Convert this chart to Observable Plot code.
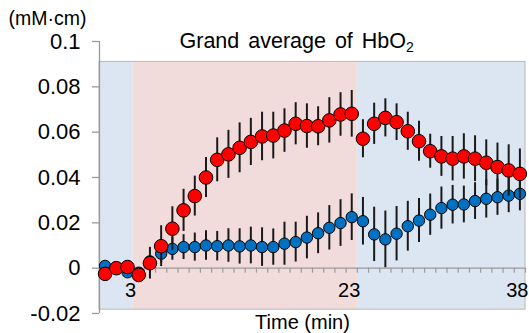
<!DOCTYPE html>
<html>
<head>
<meta charset="utf-8">
<script src="https://cdn.jsdelivr.net/npm/d3@7"></script>
<script src="https://cdn.jsdelivr.net/npm/@observablehq/plot@0.6"></script>
<style>
  html, body { margin: 0; padding: 0; background: #fff; }
</style>
</head>
<body>
<div id="chart"></div>
<script>
// ---- data ----
const titleMain = "Grand average of HbO";
const titleSub = "2";
const unitLabel = "(mM\u00b7cm)";
const xTitle = "Time (min)";

const times = [0.5, 1.5, 2.5, 3.5, 4.5, 5.5, 6.5, 7.5, 8.5, 9.5,
  10.5, 11.5, 12.5, 13.5, 14.5, 15.5, 16.5, 17.5, 18.5, 19.5,
  20.5, 21.5, 22.5, 23.5, 24.5, 25.5, 26.5, 27.5, 28.5, 29.5,
  30.5, 31.5, 32.5, 33.5, 34.5, 35.5, 36.5, 37.5];

const redMean = [-0.0025, 0.0000, 0.0005, -0.0030, 0.0022, 0.0097, 0.0174, 0.0255, 0.0318, 0.0400,
  0.0478, 0.0502, 0.0531, 0.0557, 0.0581, 0.0585, 0.0607, 0.0637, 0.0627, 0.0626,
  0.0652, 0.0678, 0.0681, 0.0571, 0.0637, 0.0663, 0.0644, 0.0604, 0.0560, 0.0516,
  0.0493, 0.0483, 0.0493, 0.0483, 0.0465, 0.0446, 0.0431, 0.0416];
const redErr = [0.0020, 0.0020, 0.0020, 0.0020, 0.0070, 0.0090, 0.0097, 0.0093, 0.0088, 0.0088,
  0.0097, 0.0106, 0.0110, 0.0104, 0.0107, 0.0103, 0.0096, 0.0093, 0.0098, 0.0086,
  0.0100, 0.0096, 0.0103, 0.0084, 0.0091, 0.0084, 0.0081, 0.0084, 0.0088, 0.0075,
  0.0088, 0.0098, 0.0100, 0.0101, 0.0101, 0.0106, 0.0113, 0.0110];

const blueMean = [0.0010, 0.0000, -0.0018, -0.0020, 0.0030, 0.0064, 0.0085, 0.0093, 0.0093, 0.0100,
  0.0097, 0.0100, 0.0096, 0.0100, 0.0093, 0.0093, 0.0108, 0.0115, 0.0135, 0.0154,
  0.0178, 0.0199, 0.0225, 0.0207, 0.0149, 0.0127, 0.0152, 0.0185, 0.0210, 0.0236,
  0.0265, 0.0280, 0.0281, 0.0296, 0.0306, 0.0313, 0.0320, 0.0328];
const blueErr = [0.0010, 0.0010, 0.0010, 0.0010, 0.0020, 0.0040, 0.0050, 0.0055, 0.0062, 0.0065,
  0.0065, 0.0074, 0.0078, 0.0081, 0.0085, 0.0080, 0.0095, 0.0088, 0.0094, 0.0090,
  0.0098, 0.0103, 0.0103, 0.0105, 0.0120, 0.0125, 0.0120, 0.0110, 0.0097, 0.0091,
  0.0093, 0.0085, 0.0081, 0.0081, 0.0085, 0.0080, 0.0075, 0.0075];

// background phases (min)
const phaseStart = [0, 3, 23];
const phaseEnd = [3, 23, 38];
const phaseKind = ["rest", "task", "rest"];
const phaseBottom = -0.0183;
const phaseTop = 0.091;

const yTicks = [0.1, 0.08, 0.06, 0.04, 0.02, 0, -0.02];
const yTickLabels = ["0.1", "0.08", "0.06", "0.04", "0.02", "0", "-0.02"];
const xTickLabelValues = [3, 23, 38];
const xTickLabels = ["3", "23", "38"];

// ---- tables ----
const red = times.map((t, i) => ({t, m: redMean[i], e: redErr[i]}));
const blue = times.map((t, i) => ({t, m: blueMean[i], e: blueErr[i]}));
const phases = phaseStart.map((s, i) => ({s, e: phaseEnd[i], kind: phaseKind[i]}));
const yLabelOf = new Map(yTicks.map((v, i) => [v, yTickLabels[i]]));
const xLabelOf = new Map(xTickLabelValues.map((v, i) => [v, xTickLabels[i]]));
const minuteTicks = d3.range(0, 39);

const phaseColor = {rest: "#DCE6F2", task: "#F2DCDB"};
const axisGray = "#9A9A9A";
const borderGray = "#B8B8B8";
const barColor = "#1a1a1a";

const chart = Plot.plot({
  width: 529,
  height: 333,
  marginLeft: 99,
  marginRight: 4,
  marginTop: 41,
  marginBottom: 20,
  x: {domain: [0, 38], axis: null},
  y: {domain: [-0.02, 0.1], axis: null},
  style: {fontFamily: "'Liberation Sans', Arial, sans-serif", background: "#fff", color: "#000", overflow: "visible"},
  marks: [
    Plot.rect(phases, {x1: "s", x2: "e", y1: () => phaseBottom, y2: () => phaseTop, fill: d => phaseColor[d.kind]}),
    Plot.rect([0], {x1: () => 0, x2: () => 38, y1: () => phaseBottom, y2: () => phaseTop, fill: "none", stroke: borderGray, strokeWidth: 1}),
    Plot.ruleX([0], {y1: -0.02, y2: 0.1, stroke: axisGray, strokeWidth: 1.3}),
    Plot.axisY({ticks: yTicks, tickFormat: d => yLabelOf.get(d), tickSize: 7, tickPadding: 12, fontSize: 22, stroke: axisGray, strokeWidth: 1.3, label: null}),
    Plot.ruleY([0], {x1: 0, x2: 38, stroke: axisGray, strokeWidth: 1.3}),
    Plot.ruleX(minuteTicks, {x: d => d, y1: () => 0, y2: () => 0, insetBottom: -5, stroke: axisGray, strokeWidth: 1.2}),
    Plot.text(xTickLabelValues, {x: d => d, frameAnchor: "bottom", dy: -23, dx: 3, textAnchor: "end", lineAnchor: "middle", text: d => xLabelOf.get(d), fontSize: 20, fill: "#000"}),
    Plot.ruleX(blue, {x: "t", y1: d => d.m - d.e, y2: d => d.m + d.e, stroke: barColor, strokeWidth: 2}),
    Plot.dot(blue, {x: "t", y: "m", r: 5.7, fill: "#0070C0", stroke: "#000", strokeWidth: 1}),
    Plot.ruleX(red, {x: "t", y1: d => d.m - d.e, y2: d => d.m + d.e, stroke: barColor, strokeWidth: 2}),
    Plot.dot(red, {x: "t", y: "m", r: 6.8, fill: "#FF0000", stroke: "#000", strokeWidth: 1}),
    Plot.text([titleMain], {frameAnchor: "top-left", dx: 80, dy: 6.5, textAnchor: "start", lineAnchor: "bottom", fontSize: 21.5, fill: "#000"}),
    Plot.text([unitLabel], {frameAnchor: "top-left", dx: -91, dy: -22.5, textAnchor: "start", lineAnchor: "middle", fontSize: 19.5, fill: "#000"}),
    Plot.text([xTitle], {frameAnchor: "bottom", dx: -10, dy: 9, textAnchor: "middle", lineAnchor: "middle", fontSize: 20, fill: "#000"})
  ]
});

document.getElementById("chart").appendChild(chart);

// subscript for the title
d3.select(chart).selectAll("text").each(function() {
  if (this.textContent === titleMain) {
    this.style.wordSpacing = "3px";
    d3.select(this).append("tspan").attr("dy", "0.3em").attr("font-size", 14).text(titleSub);
  }
});
</script>
</body>
</html>
